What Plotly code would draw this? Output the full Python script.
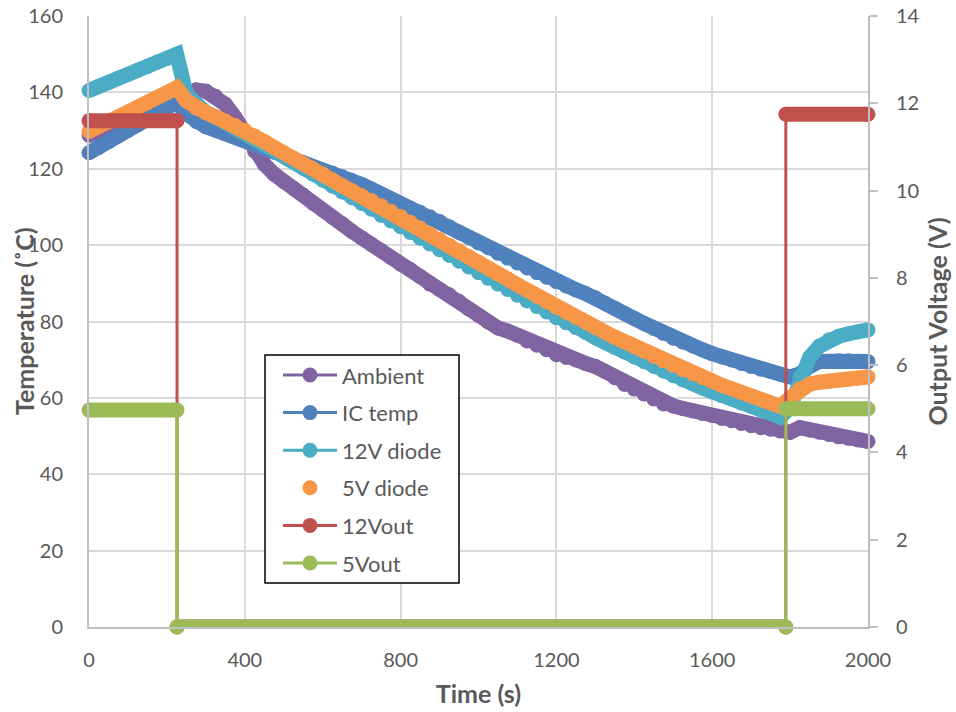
import plotly.graph_objects as go

# ---------------- data ----------------
time_s = list(range(0, 2001, 25))  # sample times (s)

ambient = [
    128.8, 129.5, 130.3, 131.2, 132.0, 133.0, 134.0, 135.2, 136.3, 137.6,
    139.2, 140.6, 140.3, 139.0, 136.9, 133.5, 128.8, 124.6, 121.2, 118.6,
    116.6, 114.9, 113.1, 111.0, 109.2, 107.3, 105.6, 103.6, 101.9, 100.2,
    98.6, 96.8, 95.0, 93.6, 91.8, 89.8, 88.4, 87.0, 85.3, 83.3,
    81.6, 79.9, 78.3, 77.5, 76.4, 74.9, 73.8, 72.6, 71.3, 70.6,
    69.9, 69.0, 68.2, 66.9, 65.3, 63.5, 62.3, 61.0, 59.7, 58.4,
    57.9, 57.2, 56.6, 55.9, 55.4, 54.6, 54.0, 53.3, 52.7, 52.2,
    51.8, 51.3, 51.0, 52.2, 51.6, 51.0, 50.4, 49.8, 49.4, 49.0,
    48.6,
]
ic_temp = [
    124.2, 125.6, 127.1, 128.6, 130.0, 131.5, 133.0, 134.5, 136.0, 137.4,
    134.4, 132.4, 131.0, 130.1, 129.2, 128.3, 127.5, 126.4, 125.4, 124.4,
    123.5, 122.5, 121.6, 120.6, 119.7, 118.8, 117.9, 116.9, 115.9, 114.7,
    113.4, 112.1, 110.9, 109.7, 108.6, 107.4, 106.2, 104.8, 103.4, 102.0,
    100.6, 99.3, 97.9, 96.6, 95.3, 94.0, 92.8, 91.6, 90.4, 89.3,
    88.3, 87.3, 86.2, 84.8, 83.5, 82.1, 80.8, 79.5, 78.2, 76.9,
    75.6, 74.6, 73.6, 72.6, 71.6, 70.7, 69.9, 69.0, 68.2, 67.5,
    66.9, 66.2, 65.5, 66.3, 68.2, 69.5, 69.6, 69.7, 69.7, 69.6,
    69.5,
]
diode_12v = [
    140.5, 141.6, 142.6, 143.7, 144.7, 145.8, 146.8, 147.9, 148.9, 150.0,
    139.5, 136.4, 134.8, 133.5, 132.2, 130.9, 129.6, 128.0, 126.4, 124.8,
    123.2, 121.7, 120.1, 118.6, 117.0, 115.4, 113.9, 112.4, 110.9, 109.4,
    107.8, 106.3, 104.8, 103.3, 101.8, 100.3, 98.8, 97.3, 95.8, 94.3,
    92.8, 91.3, 89.8, 88.4, 86.9, 85.4, 83.9, 82.5, 81.0, 79.7,
    78.4, 77.1, 75.8, 74.5, 73.2, 72.0, 70.7, 69.5, 68.2, 67.0,
    65.8, 64.7, 63.7, 62.6, 61.6, 60.6, 59.7, 58.7, 57.8, 56.8,
    55.9, 55.0, 57.5, 65.5, 70.6, 73.5, 75.2, 76.1, 76.8, 77.3,
    77.8,
]
diode_5v = [
    129.8, 131.1, 132.3, 133.6, 134.8, 136.1, 137.3, 138.6, 139.9, 141.2,
    137.8, 135.9, 134.7, 133.6, 132.5, 131.3, 130.1, 128.6, 127.1, 125.6,
    124.2, 122.8, 121.4, 120.0, 118.6, 117.1, 115.6, 114.3, 113.0, 111.7,
    110.3, 108.9, 107.5, 106.0, 104.5, 103.0, 101.5, 100.0, 98.5, 97.0,
    95.5, 94.0, 92.5, 91.1, 89.6, 88.1, 86.6, 85.2, 83.7, 82.4,
    81.1, 79.8, 78.5, 77.2, 75.9, 74.7, 73.4, 72.2, 70.9, 69.7,
    68.5, 67.4, 66.4, 65.3, 64.3, 63.3, 62.4, 61.4, 60.5, 59.5,
    58.6, 57.8, 60.0, 62.4, 63.6, 64.1, 64.4, 64.7, 64.9, 65.2,
    65.5,
]

# output voltages: step levels (off at 226 s, back on at 1789 s)
v_time = [0, 226, 226, 1789, 1789, 2000]
out_12v = [11.6, 11.6, 0.0, 0.0, 11.75, 11.75]
out_5v = [4.97, 4.97, 0.0, 0.0, 5.0, 5.0]

series_names = ["Ambient", "IC temp", "12V diode", "5V diode", "12Vout", "5Vout"]
series_colors = ["#8064A2", "#4F81BD", "#4BACC6", "#F79646", "#C0504D", "#9BBB59"]

x_ticks = [0, 400, 800, 1200, 1600, 2000]
y_ticks = [0, 20, 40, 60, 80, 100, 120, 140, 160]
y2_ticks = [0, 2, 4, 6, 8, 10, 12, 14]

x_title = "Time (s)"
y_title = "Temperature (˚C)"
y2_title = "Output Voltage (V)"

FONT = "Lato"
GREY = "#595959"
BAND = 15  # thickness of the dense-marker bands (px)

# ---------------- figure ----------------
fig = go.Figure()

temps = [ambient, ic_temp, diode_12v, diode_5v]
for name, color, vals in zip(series_names[:4], series_colors[:4], temps):
    fig.add_trace(go.Scatter(
        x=time_s, y=vals, name=name, mode="lines+markers",
        line=dict(color=color, width=BAND),
        marker=dict(color=color, size=BAND),
        cliponaxis=False, showlegend=False, yaxis="y",
    ))


def horizontal_runs(xs, ys):
    """Split a step series into its flat runs (None between runs)."""
    bx, by = [], []
    for i, (xv, yv) in enumerate(zip(xs, ys)):
        if i > 0 and xv == xs[i - 1]:
            bx.append(None)
            by.append(None)
        bx.append(xv)
        by.append(yv)
    return bx, by


for name, color, vals in zip(series_names[4:], series_colors[4:], [out_12v, out_5v]):
    # thin connecting line (includes the vertical switching edges)
    fig.add_trace(go.Scatter(
        x=v_time, y=vals, name=name, mode="lines",
        line=dict(color=color, width=3),
        cliponaxis=False, showlegend=False, yaxis="y2",
    ))
    # thick band of markers along the flat parts
    bx, by = horizontal_runs(v_time, vals)
    fig.add_trace(go.Scatter(
        x=bx, y=by, name=name, mode="lines+markers",
        line=dict(color=color, width=BAND),
        marker=dict(color=color, size=BAND),
        cliponaxis=False, showlegend=False, yaxis="y2", connectgaps=False,
    ))

# ---------------- layout geometry ----------------
FIG_W, FIG_H = 956, 712
ML, MT = 89, 16
PW, PH = 779, 611
MR = FIG_W - ML - PW
MB = FIG_H - MT - PH


# pixel -> paper helpers (plot area: x 89..868, y 16..627)
def px(x):
    return (x - ML) / PW


def py(y):
    return (MT + PH - y) / PH


title_font = dict(family=FONT, size=25, color=GREY, weight="bold")

shapes = [dict(type="rect", xref="paper", yref="paper",
               x0=px(265), x1=px(459), y0=py(583), y1=py(355),
               line=dict(color="black", width=1.5), fillcolor="white",
               layer="above")]
annotations = [
    # left axis title
    dict(xref="paper", yref="paper", x=px(24), y=py(321), text=y_title,
         textangle=-90, showarrow=False, xanchor="center", yanchor="middle",
         font=title_font),
]
entry_y = [375, 412.6, 450.2, 487.8, 525.4, 563]
for i, (name, color) in enumerate(zip(series_names, series_colors)):
    yy = py(entry_y[i])
    if name != "5V diode":
        shapes.append(dict(type="line", xref="paper", yref="paper",
                           x0=px(283), x1=px(337), y0=yy, y1=yy,
                           line=dict(color=color, width=3), layer="above"))
    shapes.append(dict(type="circle", xref="paper", yref="paper",
                       xsizemode="pixel", ysizemode="pixel",
                       xanchor=px(310), yanchor=yy,
                       x0=-7.5, x1=7.5, y0=-7.5, y1=7.5,
                       fillcolor=color, line=dict(width=0), layer="above"))
    annotations.append(dict(xref="paper", yref="paper", x=px(340), y=yy,
                            text=name, showarrow=False, xanchor="left",
                            yanchor="middle",
                            font=dict(family=FONT, size=22, color=GREY)))

axis_common = dict(
    tickfont=dict(family=FONT, size=20, color=GREY),
    showline=True, linecolor="#bfbfbf", linewidth=2, zeroline=False,
    automargin=False, ticklabeloverflow="allow",
)

fig.update_layout(
    width=FIG_W, height=FIG_H,
    margin=dict(l=ML, r=MR, t=MT, b=MB),
    paper_bgcolor="white", plot_bgcolor="white",
    showlegend=False,
    shapes=shapes, annotations=annotations,
    xaxis=dict(range=[0, 2000], tickvals=x_ticks, showgrid=True,
               gridcolor="#d9d9d9", gridwidth=1.5, ticks="",
               ticklabelstandoff=14,
               title=dict(text=x_title, standoff=15, font=title_font),
               **axis_common),
    yaxis=dict(range=[0, 160], tickvals=y_ticks, showgrid=True,
               gridcolor="#d9d9d9", gridwidth=1.5, ticks="",
               ticklabelstandoff=20,
               **axis_common),
    yaxis2=dict(range=[0, 14], tickvals=y2_ticks, overlaying="y", side="right",
                showgrid=False, ticks="outside", ticklen=8, tickcolor="#bfbfbf",
                tickwidth=2, ticklabelstandoff=14,
                title=dict(text=y2_title, standoff=11, font=title_font),
                **axis_common),
)

# remove the browser's default 8px body margin so the figure fills the window
fig.write_html(
    "out.html",
    config={"displayModeBar": False},
    post_script="document.body.style.margin='0';document.body.style.overflow='hidden';",
)
